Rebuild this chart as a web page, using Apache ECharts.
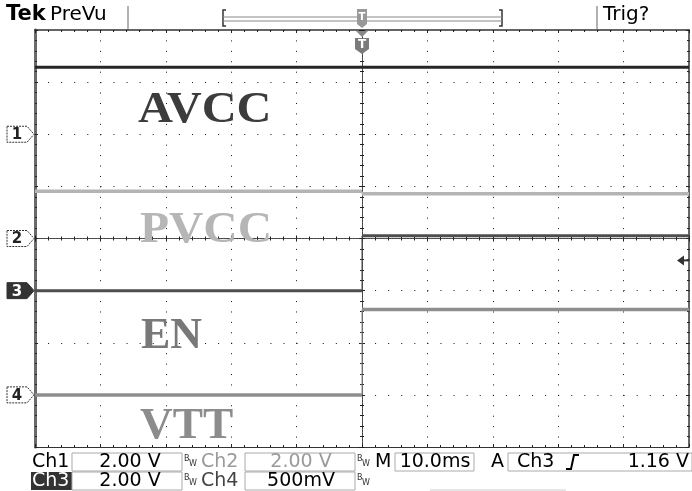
<!DOCTYPE html>
<html>
<head>
<meta charset="utf-8">
<script src="https://cdn.jsdelivr.net/npm/echarts@6/dist/echarts.min.js"></script>
<style>
  html, body { margin: 0; padding: 0; background: #fff; }
  #chart { width: 692px; height: 491px; }
</style>
</head>
<body>
<div id="chart"></div>
<script>
// time base: 10 ms/div, trigger at centre of record
const timeMs = [-50, 0, 50];          // record start, trigger, record end
// channel levels [before trigger, after trigger] in volts
const ch1Volts = [2.57, 2.57];        // AVCC
const ch2Volts = [1.81, 1.72];        // PVCC
const ch3Volts = [0.0, 2.11];         // EN
const ch4Volts = [0.0, 0.82];         // VTT
const voltsPerDiv = [2.0, 2.0, 2.0, 0.5];
const groundDiv = [2, 0, -1, -3];     // ground marker of each channel, in divisions
const chNames = ['AVCC', 'PVCC', 'EN', 'VTT'];
const trigLevel = 1.16;               // volts on Ch3
const divTicks = [-4, -3, -2, -1, 0, 1, 2, 3, 4];

const G = { left: 35, top: 30, width: 654, height: 417 };
const traceColors = ['#262626', '#b4b4b4', '#4e4e4e', '#8e8e8e'];
const traceWidths = [3, 3.5, 3, 3.5];

const chart = echarts.init(document.getElementById('chart'), null, { renderer: 'canvas' });

function toDiv(ch, v) {
  return groundDiv[ch] + v / voltsPerDiv[ch];
}
// flat parts before and after the trigger, broken at the edge
function levelData(ch, levels) {
  return [
    [timeMs[0], toDiv(ch, levels[0])],
    [timeMs[1], toDiv(ch, levels[0])],
    [timeMs[1], '-'],
    [timeMs[1], toDiv(ch, levels[1])],
    [timeMs[2], toDiv(ch, levels[1])]
  ];
}
function edgeData(ch, levels) {
  return [
    [timeMs[1], toDiv(ch, levels[0])],
    [timeMs[1], toDiv(ch, levels[1])]
  ];
}

function xAx(position, offset, inside, line, grid) {
  return {
    type: 'value', min: timeMs[0], max: timeMs[2], interval: 10,
    position: position, offset: offset,
    axisLine: { show: true, onZero: false, lineStyle: line },
    axisTick: { show: true, inside: inside, length: 3, lineStyle: { color: '#222' } },
    minorTick: { show: true, splitNumber: 5, length: 2, lineStyle: { color: '#222' } },
    axisLabel: { show: false },
    splitLine: grid ? { show: true, lineStyle: { color: '#111', width: 1, type: [1, G.height / 40 - 1] } } : { show: false }
  };
}
function yAx(position, offset, inside, line, grid) {
  return {
    type: 'value', min: divTicks[0], max: divTicks[divTicks.length - 1], interval: 1,
    position: position, offset: offset,
    axisLine: { show: true, onZero: false, lineStyle: line },
    axisTick: { show: true, inside: inside, length: 3, lineStyle: { color: '#222' } },
    minorTick: { show: true, splitNumber: 5, length: 2, lineStyle: { color: '#222' } },
    axisLabel: { show: false },
    splitLine: grid ? { show: true, lineStyle: { color: '#111', width: 1, type: [1, G.width / 50 - 1] } } : { show: false }
  };
}

const centreLine = { color: '#444', width: 1, type: [2, 1] };

const series = [];
[ch1Volts, ch2Volts, ch3Volts, ch4Volts].forEach((lv, i) => {
  series.push({
    name: chNames[i], type: 'line', xAxisIndex: 0, yAxisIndex: 0,
    data: levelData(i, lv), connectNulls: false,
    showSymbol: false, animation: false, z: 5,
    lineStyle: { color: traceColors[i], width: traceWidths[i] }
  });
  series.push({
    name: chNames[i] + ' edge', type: 'line', xAxisIndex: 0, yAxisIndex: 0,
    data: edgeData(i, lv),
    showSymbol: false, animation: false, z: 4,
    lineStyle: { color: traceColors[i], width: 1.3, opacity: 0.8 }
  });
});

chart.setOption({
  backgroundColor: '#fff',
  animation: false,
  grid: { left: G.left, top: G.top, width: G.width, height: G.height },
  xAxis: [
    xAx('bottom', 0, true, { color: '#333', width: 1 }, true),
    xAx('top', 0, true, { color: '#333', width: 1.5 }, false),
    xAx('bottom', -G.height / 2, true, centreLine, false),
    xAx('bottom', -G.height / 2, false, centreLine, false)
  ],
  yAxis: [
    yAx('left', 0, true, { color: '#6a6a6a', width: 3 }, true),
    yAx('right', 0, true, { color: '#333', width: 1.5 }, false),
    yAx('left', -G.width / 2, true, centreLine, false),
    yAx('left', -G.width / 2, false, centreLine, false)
  ],
  series: series
});

// ---- overlays: labels, markers, readouts ----
const yPix = d => chart.convertToPixel({ yAxisIndex: 0 }, d);
const xPix = t => chart.convertToPixel({ xAxisIndex: 0 }, t);
const els = [];

// big channel names
const nameStyle = [
  { x: 138, y: 111, sx: 1.1, color: '#3c3c3c' },
  { x: 140, y: 231, sx: 1.08, color: '#b6b6b6' },
  { x: 141, y: 337, sx: 1.0, color: '#787878' },
  { x: 140, y: 427, sx: 1.03, color: '#8c8c8c' }
];
chNames.forEach((n, i) => {
  const s = nameStyle[i];
  els.push({
    type: 'text', x: s.x, y: s.y, scaleX: s.sx, z: 3,
    style: { text: n, fill: s.color, font: 'bold 44px "Liberation Serif", serif',
             align: 'left', verticalAlign: 'middle' }
  });
});

// channel ground markers on the left
groundDiv.forEach((d, i) => {
  const y = yPix(d);
  const filled = i === 2;
  els.push({
    type: 'polygon', z: 10,
    shape: { points: [[7, y - 8], [27, y - 8], [34, y], [27, y + 8], [7, y + 8]] },
    style: { fill: filled ? '#333' : '#fff', stroke: '#333', lineWidth: 1, lineDash: filled ? null : [2, 1] }
  });
  els.push({
    type: 'text', x: 17, y: y + 1, z: 11,
    style: { text: String(i + 1), fill: filled ? '#fff' : '#222', font: 'bold 15px "DejaVu Sans"',
             align: 'center', verticalAlign: 'middle' }
  });
});

// trigger level arrow on the right (Ch3)
const ty = yPix(toDiv(2, trigLevel));
els.push({ type: 'polygon', z: 10, shape: { points: [[677, ty], [684, ty - 5], [684, ty + 5]] }, style: { fill: '#333' } });
els.push({ type: 'line', z: 10, shape: { x1: 683, y1: ty, x2: 689, y2: ty }, style: { stroke: '#333', lineWidth: 2 } });

// trigger position marker below top border
const tx = xPix(timeMs[1]);
els.push({ type: 'polygon', z: 10, shape: { points: [[tx - 6, G.top + 1], [tx + 6, G.top + 1], [tx, G.top + 7]] }, style: { fill: '#888' } });
els.push({ type: 'polygon', z: 10,
  shape: { points: [[tx - 7, G.top + 8], [tx + 7, G.top + 8], [tx + 7, G.top + 19], [tx, G.top + 24], [tx - 7, G.top + 19]] },
  style: { fill: '#7a7a7a' } });
els.push({ type: 'text', x: tx, y: G.top + 15, z: 11,
  style: { text: 'T', fill: '#fff', font: 'bold 12px "DejaVu Sans"', align: 'center', verticalAlign: 'middle' } });

// top status bar
els.push({ type: 'text', x: 6, y: 15, style: { text: 'Tek', fill: '#000', font: 'bold 21px "DejaVu Sans"', align: 'left', verticalAlign: 'middle' } });
els.push({ type: 'text', x: 50, y: 15, style: { text: 'PreVu', fill: '#000', font: '20px "DejaVu Sans"', align: 'left', verticalAlign: 'middle' } });
els.push({ type: 'line', shape: { x1: 128, y1: 6, x2: 128, y2: 29 }, style: { stroke: '#999', lineWidth: 1.5 } });
els.push({ type: 'line', shape: { x1: 597, y1: 6, x2: 597, y2: 29 }, style: { stroke: '#999', lineWidth: 1.5 } });
els.push({ type: 'text', x: 603, y: 15, style: { text: 'Trig?', fill: '#000', font: '20px "DejaVu Sans"', align: 'left', verticalAlign: 'middle' } });
// record bracket
els.push({ type: 'polyline', shape: { points: [[226, 10], [223, 10], [223, 26], [226, 26]] }, style: { stroke: '#333', lineWidth: 1.5, fill: null } });
els.push({ type: 'polyline', shape: { points: [[499, 10], [502, 10], [502, 26], [499, 26]] }, style: { stroke: '#333', lineWidth: 1.5, fill: null } });
els.push({ type: 'line', shape: { x1: 223, y1: 17, x2: 502, y2: 17 }, style: { stroke: '#888', lineWidth: 1 } });
els.push({ type: 'line', shape: { x1: 223, y1: 21, x2: 502, y2: 21 }, style: { stroke: '#888', lineWidth: 1 } });
els.push({ type: 'polygon', shape: { points: [[tx - 5, 9], [tx + 5, 9], [tx + 5, 24], [tx, 28], [tx - 5, 24]] }, style: { fill: '#999' } });
els.push({ type: 'text', x: tx, y: 17, style: { text: 'T', fill: '#fff', font: 'bold 10px "DejaVu Sans"', align: 'center', verticalAlign: 'middle' } });

// bottom readouts
const rdFont = '19px "DejaVu Sans"';
function txt(s, x, y, color, align) {
  els.push({ type: 'text', x: x, y: y, style: { text: s, fill: color || '#000', font: rdFont, align: align || 'left', verticalAlign: 'middle' } });
}
function box(x1, x2, y) {
  els.push({ type: 'rect', shape: { x: x1, y: y - 9, width: x2 - x1, height: 18 }, style: { fill: null, stroke: '#aaa', lineWidth: 1 } });
}
function bw(x, y) {
  els.push({ type: 'text', x: x, y: y - 3, style: { text: 'B', fill: '#333', font: '8px "DejaVu Sans"', verticalAlign: 'middle' } });
  els.push({ type: 'text', x: x + 5, y: y + 2, style: { text: 'W', fill: '#333', font: '8px "DejaVu Sans"', verticalAlign: 'middle' } });
}
const r1 = 462, r2 = 481;
txt('Ch1', 32, r1);
box(72, 182, r1); txt('2.00 V', 130, r1, '#000', 'center'); bw(184, r1);
txt('Ch2', 201, r1, '#9a9a9a');
box(245, 355, r1); txt('2.00 V', 301, r1, '#9a9a9a', 'center'); bw(357, r1);
txt('M', 375, r1);
box(395, 474, r1); txt('10.0ms', 435, r1, '#000', 'center');
txt('A', 491, r1);
box(508, 692, r1); txt('Ch3', 517, r1);
els.push({ type: 'polyline', shape: { points: [[566, 469], [571, 469], [574, 455], [579, 455]] }, style: { stroke: '#000', lineWidth: 2, fill: null } });
txt('1.16 V', 689, r1, '#000', 'right');

els.push({ type: 'rect', shape: { x: 31, y: r2 - 9, width: 41, height: 18 }, style: { fill: '#333' } });
txt('Ch3', 32, r2, '#fff');
box(72, 182, r2); txt('2.00 V', 130, r2, '#000', 'center'); bw(184, r2);
txt('Ch4', 201, r2, '#444');
box(245, 355, r2); txt('500mV', 301, r2, '#000', 'center'); bw(357, r2);
els.push({ type: 'line', shape: { x1: 430, y1: 490, x2: 566, y2: 490 }, style: { stroke: '#ccc', lineWidth: 1 } });

chart.setOption({ graphic: { elements: els } });
</script>
</body>
</html>
